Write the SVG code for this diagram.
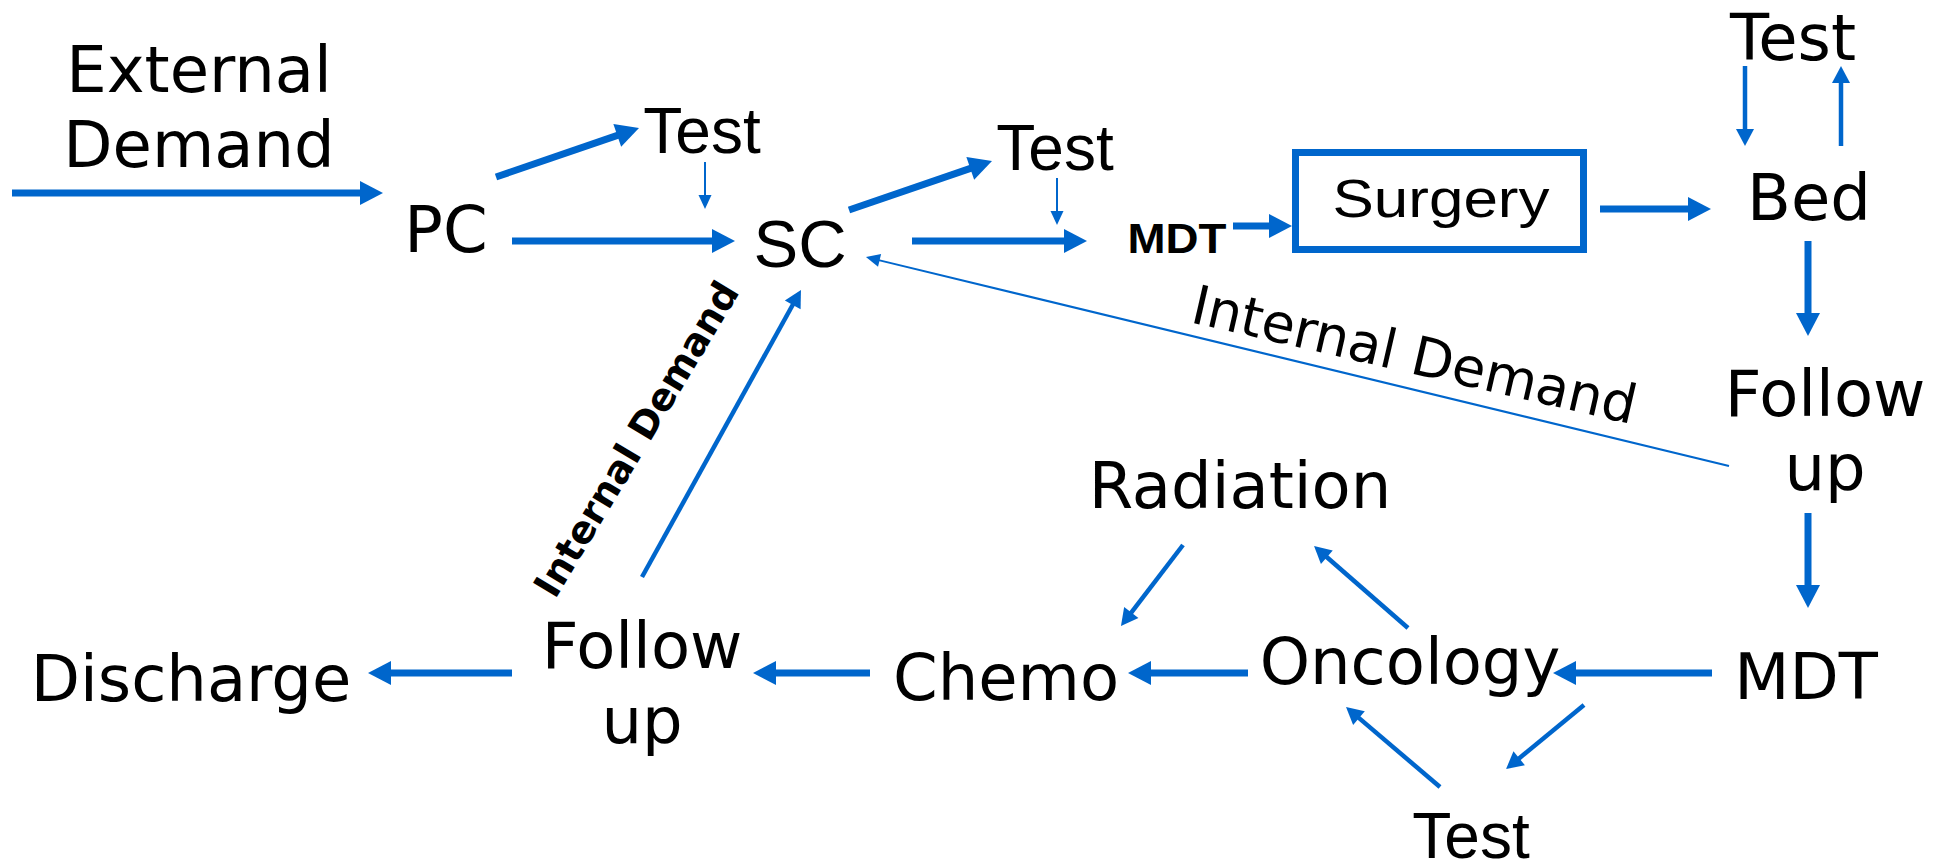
<svg xmlns="http://www.w3.org/2000/svg" width="1938" height="862" viewBox="0 0 1938 862">
  <style>
    .dv { font-family: "DejaVu Sans", Verdana, sans-serif; font-size: 64px; fill: #000; text-anchor: middle; }
    .ar { font-family: "Liberation Sans", Arial, sans-serif; font-size: 64px; fill: #000; text-anchor: middle; }
    .lbl { font-family: "DejaVu Sans", Verdana, sans-serif; fill: #000; }
    .thick { stroke: #0066CC; stroke-width: 7; fill: none; marker-end: url(#headL); }
    .mid { stroke: #0066CC; stroke-width: 4.5; fill: none; marker-end: url(#headM); }
    .thin { stroke: #0066CC; stroke-width: 2; fill: none; marker-end: url(#headS); }
    .box { fill: #fff; stroke: #0066CC; stroke-width: 7; }
  </style>
  <defs>
    <marker id="headL" markerUnits="userSpaceOnUse" markerWidth="30" markerHeight="30" refX="1" refY="0" orient="auto" overflow="visible">
      <path d="M0,-12 L23,0 L0,12 Z" fill="#0066CC"/>
    </marker>
    <marker id="headM" markerUnits="userSpaceOnUse" markerWidth="24" markerHeight="24" refX="1" refY="0" orient="auto" overflow="visible">
      <path d="M0,-9 L17,0 L0,9 Z" fill="#0066CC"/>
    </marker>
    <marker id="headS" markerUnits="userSpaceOnUse" markerWidth="20" markerHeight="20" refX="1" refY="0" orient="auto" overflow="visible">
      <path d="M0,-6.5 L14,0 L0,6.5 Z" fill="#0066CC"/>
    </marker>
  </defs>

  <rect width="1938" height="862" fill="#fff"/>

  <!-- connectors -->
  <g id="connectors">
    <line class="thick" x1="12" y1="193" x2="361" y2="193"/>
    <line class="thick" x1="496" y1="177" x2="618.2" y2="135.1"/>
    <line class="thick" x1="512" y1="241" x2="713" y2="241"/>
    <line class="thick" x1="849" y1="210" x2="971.2" y2="168.1"/>
    <line class="thick" x1="912" y1="241" x2="1065" y2="241"/>
    <line class="thick" x1="1233" y1="226" x2="1270" y2="226"/>
    <line class="thick" x1="1600" y1="209" x2="1689" y2="209"/>
    <line class="thick" x1="1808" y1="241" x2="1808" y2="314"/>
    <line class="thick" x1="1808" y1="513" x2="1808" y2="586"/>
    <line class="thick" x1="1712" y1="673" x2="1575" y2="673"/>
    <line class="thick" x1="1248" y1="673" x2="1150" y2="673"/>
    <line class="thick" x1="870" y1="673" x2="775" y2="673"/>
    <line class="thick" x1="512" y1="673" x2="390" y2="673"/>

    <line class="mid" x1="1745" y1="66" x2="1745" y2="130"/>
    <line class="mid" x1="1841" y1="146" x2="1841" y2="82"/>
    <line class="mid" x1="642" y1="577" x2="793.2" y2="304"/>
    <line class="mid" x1="1183" y1="545" x2="1130.7" y2="613.3"/>
    <line class="mid" x1="1408" y1="628" x2="1326.1" y2="556.5"/>
    <line class="mid" x1="1584" y1="705" x2="1518.4" y2="758.9"/>
    <line class="mid" x1="1440" y1="787" x2="1358.2" y2="717.4"/>

    <line class="thin" x1="705" y1="162" x2="705" y2="196"/>
    <line class="thin" x1="1057" y1="178" x2="1057" y2="212"/>
    <line class="thin" x1="1729" y1="466" x2="878.6" y2="260.1"/>

    <text class="lbl" style="font-size:54px" transform="translate(1189 322) rotate(13)">Internal Demand</text>
    <text class="lbl" style="font-size:38px;font-weight:bold" transform="translate(555 600) rotate(-59)">Internal Demand</text>
  </g>

  <!-- nodes -->
  <g id="external-demand">
    <text class="dv" x="199" y="92">External</text>
    <text class="dv" x="199" y="167">Demand</text>
  </g>
  <g id="pc"><text class="dv" x="446" y="252">PC</text></g>
  <g id="test-pc"><text class="ar" x="702" y="153">Test</text></g>
  <g id="sc"><text class="ar" x="800" y="267" style="font-size:67px">SC</text></g>
  <g id="test-sc"><text class="ar" x="1055" y="170">Test</text></g>
  <g id="mdt-pre"><text class="ar" x="1177" y="253" style="font-size:43px;font-weight:bold" textLength="99" lengthAdjust="spacingAndGlyphs">MDT</text></g>
  <g id="surgery">
    <rect class="box" x="1295.5" y="152.5" width="288" height="97"/>
    <text class="ar" x="1441" y="217" style="font-size:54px" textLength="217" lengthAdjust="spacingAndGlyphs">Surgery</text>
  </g>
  <g id="test-bed"><text class="dv" x="1793" y="60">Test</text></g>
  <g id="bed"><text class="dv" x="1809" y="220">Bed</text></g>
  <g id="follow-up-right">
    <text class="dv" x="1825" y="416">Follow</text>
    <text class="dv" x="1825" y="490">up</text>
  </g>
  <g id="mdt-post"><text class="dv" x="1806" y="699">MDT</text></g>
  <g id="oncology"><text class="dv" x="1410" y="684">Oncology</text></g>
  <g id="radiation"><text class="dv" x="1240" y="508">Radiation</text></g>
  <g id="test-oncology"><text class="ar" x="1471" y="858">Test</text></g>
  <g id="chemo"><text class="dv" x="1006" y="700">Chemo</text></g>
  <g id="follow-up-left">
    <text class="dv" x="642" y="668">Follow</text>
    <text class="dv" x="642" y="743">up</text>
  </g>
  <g id="discharge"><text class="dv" x="191" y="701">Discharge</text></g>
</svg>
